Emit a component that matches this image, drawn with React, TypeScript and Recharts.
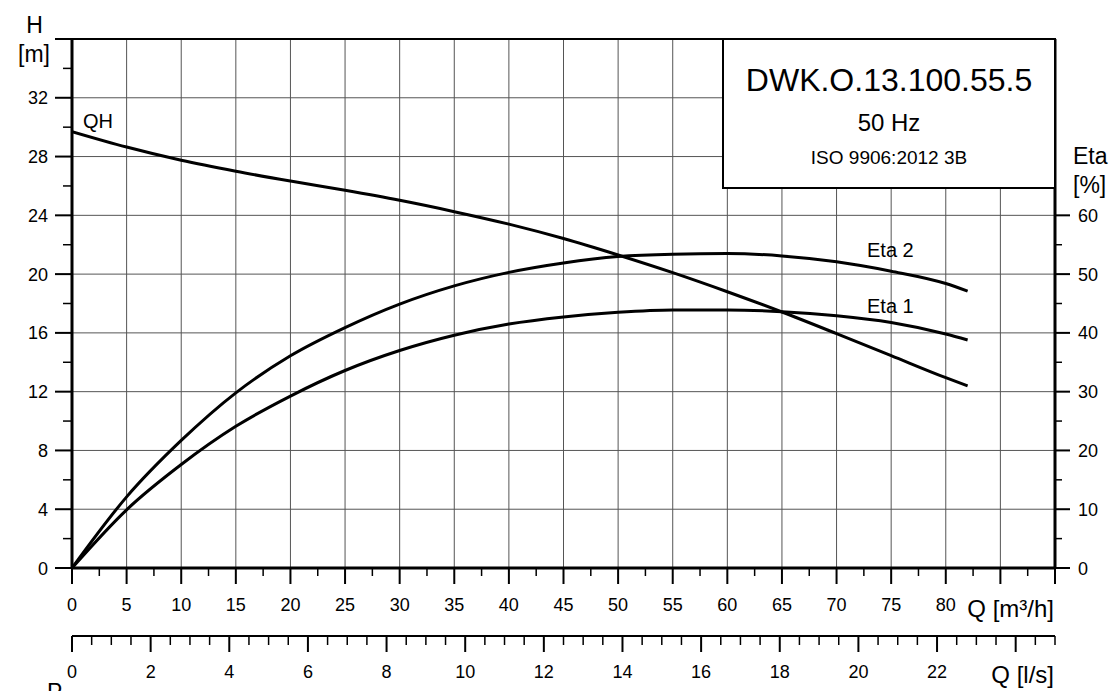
import React from 'react';
import { ComposedChart, Line, XAxis, YAxis, CartesianGrid, ReferenceLine } from 'recharts';

// flow in m³/h
const flow = [0, 5, 10, 15, 20, 25, 30, 35, 40, 45, 50, 55, 60, 65, 70, 75, 80, 82];
const head = [29.7, 28.65, 27.75, 27.0, 26.33, 25.7, 25.02, 24.25, 23.4, 22.42, 21.3, 20.1, 18.8, 17.42, 15.95, 14.45, 12.95, 12.4];
const eta1 = [0, 9.9, 17.6, 24.1, 29.25, 33.6, 37.0, 39.6, 41.5, 42.7, 43.5, 43.9, 43.9, 43.6, 42.9, 41.75, 39.8, 38.8];
const eta2 = [0, 12.1, 21.7, 29.8, 36.1, 40.9, 44.9, 48.0, 50.3, 51.9, 53.0, 53.4, 53.5, 53.1, 52.1, 50.5, 48.4, 47.1];

const flowTicks = [0, 2.5, 5, 7.5, 10, 12.5, 15, 17.5, 20, 22.5, 25, 27.5, 30, 32.5, 35, 37.5, 40, 42.5, 45, 47.5, 50, 52.5, 55, 57.5, 60, 62.5, 65, 67.5, 70, 72.5, 75, 77.5, 80, 82.5, 85, 87.5, 90];
const litreTicks = [0, 0.5, 1, 1.5, 2, 2.5, 3, 3.5, 4, 4.5, 5, 5.5, 6, 6.5, 7, 7.5, 8, 8.5, 9, 9.5, 10, 10.5, 11, 11.5, 12, 12.5, 13, 13.5, 14, 14.5, 15, 15.5, 16, 16.5, 17, 17.5, 18, 18.5, 19, 19.5, 20, 20.5, 21, 21.5, 22, 22.5, 23, 23.5, 24, 24.5, 25];
const headTicks = [0, 2, 4, 6, 8, 10, 12, 14, 16, 18, 20, 22, 24, 26, 28, 30, 32, 34, 36];
const etaTicks = [0, 5, 10, 15, 20, 25, 30, 35, 40, 45, 50, 55, 60];
const gridFlow = [5, 10, 15, 20, 25, 30, 35, 40, 45, 50, 55, 60, 65, 70, 75, 80, 85];
const gridHead = [4, 8, 12, 16, 20, 24, 28, 32];

const rows = flow.map((q, i) => ({ q, qh: head[i], eta1: eta1[i], eta2: eta2[i] }));

const FONT = '"Liberation Sans", Arial, sans-serif';

const FlowTick = (props: any) => {
  const { x, y, payload } = props;
  const v = payload.value;
  const major = v % 5 === 0;
  return (
    <g>
      <line x1={x} x2={x} y1={y} y2={y + (major ? 16 : 8)} stroke="#000" strokeWidth={major ? 2 : 1.5} />
      {major && v <= 80 && (
        <text x={x} y={y + 43} textAnchor="middle" fontSize={18} fontFamily={FONT} fill="#000">{v}</text>
      )}
    </g>
  );
};

const LitreTick = (props: any) => {
  const { x, y, payload } = props;
  const v = payload.value;
  const major = v % 2 === 0;
  return (
    <g>
      <line x1={x} x2={x} y1={y} y2={y + (major ? 16 : 9)} stroke="#000" strokeWidth={major ? 2 : 1.5} />
      {major && v <= 22 && (
        <text x={x} y={y + 42} textAnchor="middle" fontSize={18} fontFamily={FONT} fill="#000">{v}</text>
      )}
    </g>
  );
};

const HeadTick = (props: any) => {
  const { x, y, payload } = props;
  const v = payload.value;
  const major = v % 4 === 0;
  return (
    <g>
      <line x1={x - (major ? 17 : 9)} x2={x} y1={y} y2={y} stroke="#000" strokeWidth={major ? 2 : 1.5} />
      {major && v <= 32 && (
        <text x={x - 24} y={y + 6.5} textAnchor="end" fontSize={18} fontFamily={FONT} fill="#000">{v}</text>
      )}
    </g>
  );
};

const EtaTick = (props: any) => {
  const { x, y, payload } = props;
  const v = payload.value;
  const major = v % 10 === 0;
  return (
    <g>
      <line x1={x} x2={x + (major ? 15 : 7)} y1={y} y2={y} stroke="#000" strokeWidth={major ? 2 : 1.5} />
      {major && (
        <text x={x + 23} y={y + 6.5} textAnchor="start" fontSize={18} fontFamily={FONT} fill="#000">{v}</text>
      )}
    </g>
  );
};

export default function App() {
  return (
    <div style={{ position: 'absolute', left: 0, top: 0, width: 1112, height: 691, background: '#fff', fontFamily: FONT }}>
      <ComposedChart width={1112} height={691} data={rows} margin={{ top: 39, right: 0, bottom: 0, left: 0 }}>
        <CartesianGrid xAxisId="flow" yAxisId="h" verticalValues={gridFlow} horizontalValues={gridHead} stroke="#555" strokeWidth={1} />
        <XAxis
          xAxisId="flow" dataKey="q" type="number" domain={[0, 90]} ticks={flowTicks} interval={0} allowDataOverflow
          height={68} tickSize={0} tickMargin={0} tickLine={false} tick={<FlowTick />}
          axisLine={{ stroke: '#000', strokeWidth: 3 }}
        />
        <XAxis
          xAxisId="litre" dataKey={(d: any) => d.q / 3.6} type="number" domain={[0, 25]} ticks={litreTicks} interval={0} allowDataOverflow
          height={55} tickSize={0} tickMargin={0} tickLine={false} tick={<LitreTick />}
          axisLine={{ stroke: '#000', strokeWidth: 2 }}
        />
        <YAxis
          yAxisId="h" type="number" domain={[0, 36]} ticks={headTicks} interval={0} allowDataOverflow
          width={72} tickSize={0} tickMargin={0} tickLine={false} tick={<HeadTick />}
          axisLine={{ stroke: '#000', strokeWidth: 3 }}
        />
        <YAxis
          yAxisId="eta" orientation="right" type="number" domain={[0, 90]} ticks={etaTicks} interval={0} allowDataOverflow
          width={57} tickSize={0} tickMargin={0} tickLine={false} tick={<EtaTick />}
          axisLine={{ stroke: '#000', strokeWidth: 3 }}
        />
        <ReferenceLine xAxisId="flow" yAxisId="h" y={36} stroke="#000" strokeWidth={2} />
        <Line xAxisId="flow" yAxisId="h" dataKey="qh" type="monotone" stroke="#000" strokeWidth={3} dot={false} isAnimationActive={false} />
        <Line xAxisId="flow" yAxisId="eta" dataKey="eta1" type="monotone" stroke="#000" strokeWidth={3} dot={false} isAnimationActive={false} />
        <Line xAxisId="flow" yAxisId="eta" dataKey="eta2" type="monotone" stroke="#000" strokeWidth={3} dot={false} isAnimationActive={false} />
      </ComposedChart>
      <svg width={1112} height={691} style={{ position: 'absolute', left: 0, top: 0, pointerEvents: 'none' }} fontFamily={FONT} fill="#000">
        <rect x={723} y={39} width={332} height={149} fill="#fff" stroke="#000" strokeWidth={2} />
        <text x={889} y={91} textAnchor="middle" fontSize={32}>DWK.O.13.100.55.5</text>
        <text x={889} y={131} textAnchor="middle" fontSize={24}>50 Hz</text>
        <text x={889} y={164} textAnchor="middle" fontSize={19}>ISO 9906:2012 3B</text>
        <text x={34.5} y={33} textAnchor="middle" fontSize={23}>H</text>
        <text x={34} y={62} textAnchor="middle" fontSize={23}>[m]</text>
        <text x={1073} y={164} fontSize={23}>Eta</text>
        <text x={1073} y={193} fontSize={23}>[%]</text>
        <text x={1054} y={617} textAnchor="end" fontSize={24}>Q [m³/h]</text>
        <text x={1054} y={683} textAnchor="end" fontSize={24}>Q [l/s]</text>
        <text x={83} y={128} fontSize={20}>QH</text>
        <text x={867} y={257} fontSize={20}>Eta 2</text>
        <text x={867} y={313} fontSize={20}>Eta 1</text>
        <text x={47} y={700} fontSize={23}>P</text>
      </svg>
    </div>
  );
}
